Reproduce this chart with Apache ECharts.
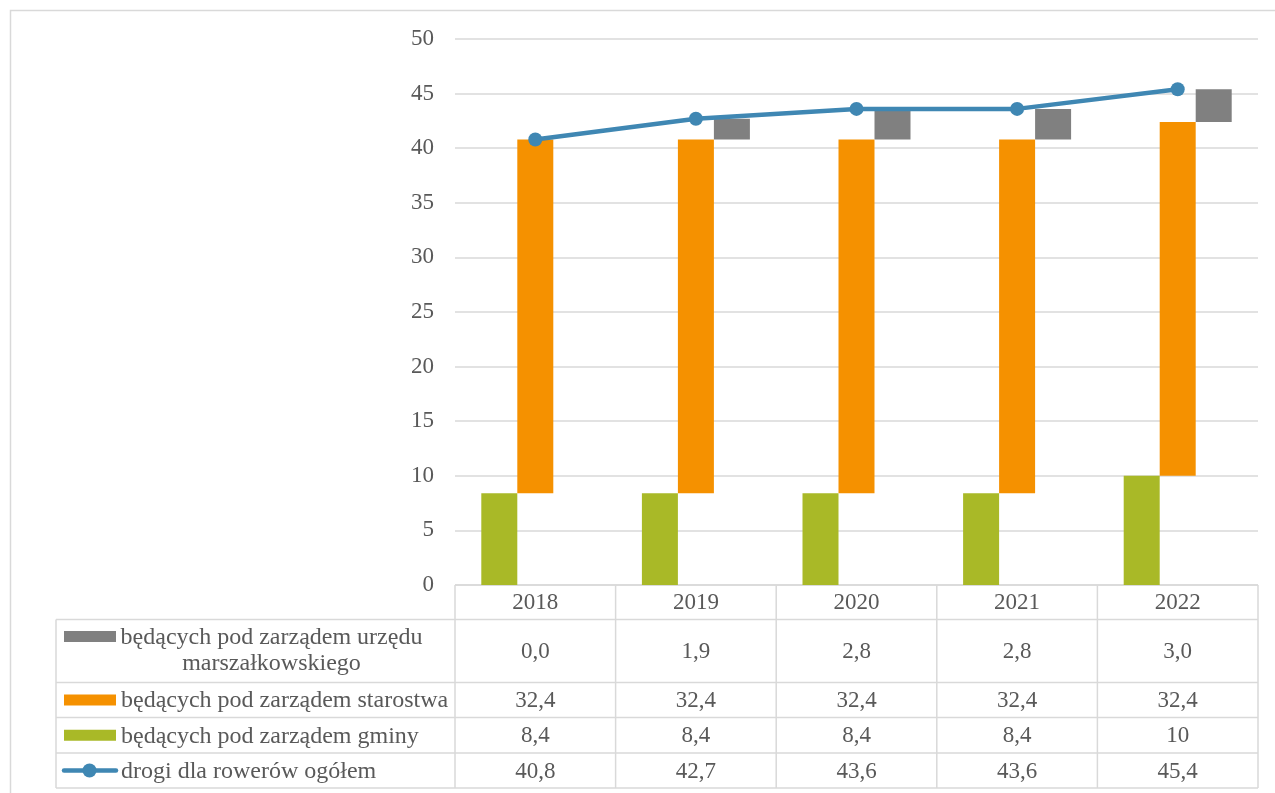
<!DOCTYPE html>
<html>
<head>
<meta charset="utf-8">
<script src="https://cdn.jsdelivr.net/npm/echarts@6/dist/echarts.min.js"></script>
<style>
html,body{margin:0;padding:0;background:#fff;}
#chart{width:1275px;height:793px;}
</style>
</head>
<body>
<div id="chart"></div>
<script>
const categories = ['2018', '2019', '2020', '2021', '2022'];
const marszalkowskie = [0.0, 1.9, 2.8, 2.8, 3.0];
const starostwa = [32.4, 32.4, 32.4, 32.4, 32.4];
const gminy = [8.4, 8.4, 8.4, 8.4, 10];
const ogolem = [40.8, 42.7, 43.6, 43.6, 45.4];
const yTicks = [0, 5, 10, 15, 20, 25, 30, 35, 40, 45, 50];

const names = {
  m: 'będących pod zarządem urzędu marszałkowskiego',
  s: 'będących pod zarządem starostwa',
  g: 'będących pod zarządem gminy',
  t: 'drogi dla rowerów ogółem'
};
const nameLines = { m: ['będących pod zarządem urzędu', 'marszałkowskiego'] };
const colors = { m: '#808080', s: '#F59100', g: '#A9B927', t: '#3F87B3' };

const FONT = '"Liberation Serif", "Times New Roman", serif';
const TXT = '#595959';
const LINE = '#d9d9d9';

const G = { left: 455, top: 39, width: 803, height: 546 };

const base1 = gminy.slice();
const base2 = gminy.map((v, i) => +(v + starostwa[i]).toFixed(1));

const fmt1 = v => v.toFixed(1).replace('.', ',');
const fmtN = v => String(v).replace('.', ',');

const chart = echarts.init(document.getElementById('chart'), null, { renderer: 'canvas' });

function buildTable() {
  const els = [];
  const colW = G.width / categories.length;
  const x0 = G.left, x1 = G.left + G.width, xl = 56;
  const yHead = G.top + G.height; // 585
  const rows = [yHead, 619.5, 682.5, 717.5, 753, 788];
  els.push({ type: 'rect', shape: { x: 10.5, y: 10.5, width: 1300, height: 800 }, style: { fill: 'none', stroke: LINE, lineWidth: 1.5 }, silent: true });
  els.push({ type: 'line', shape: { x1: x0, y1: rows[0], x2: x1, y2: rows[0] }, style: { stroke: LINE, lineWidth: 1.5 } });
  for (let r = 1; r < rows.length; r++) {
    els.push({ type: 'line', shape: { x1: xl, y1: rows[r], x2: x1, y2: rows[r] }, style: { stroke: LINE, lineWidth: 1.5 } });
  }
  els.push({ type: 'line', shape: { x1: xl, y1: rows[1], x2: xl, y2: rows[5] }, style: { stroke: LINE, lineWidth: 1.5 } });
  for (let c = 0; c <= categories.length; c++) {
    const x = x0 + c * colW;
    els.push({ type: 'line', shape: { x1: x, y1: rows[0], x2: x, y2: rows[5] }, style: { stroke: LINE, lineWidth: 1.5 } });
  }
  const txt = (x, y, t, align, size) => ({
    type: 'text', x: x, y: y,
    style: { text: t, fill: TXT, font: (size || 23) + 'px ' + FONT, align: align || 'center', verticalAlign: 'middle' }
  });
  categories.forEach((c, i) => els.push(txt(x0 + (i + 0.5) * colW, (rows[0] + rows[1]) / 2 + 1, c)));
  const rowData = [
    { key: 'm', vals: marszalkowskie.map(fmt1) },
    { key: 's', vals: starostwa.map(fmt1) },
    { key: 'g', vals: gminy.map(fmtN) },
    { key: 't', vals: ogolem.map(fmt1) }
  ];
  rowData.forEach((rd, r) => {
    const yc = (rows[r + 1] + rows[r + 2]) / 2 + 1;
    rd.vals.forEach((v, i) => els.push(txt(x0 + (i + 0.5) * colW, yc, v)));
    if (rd.key === 't') {
      els.push({ type: 'line', shape: { x1: 64, y1: yc - 1, x2: 116, y2: yc - 1 }, style: { stroke: colors.t, lineWidth: 4.5, lineCap: 'round' } });
      els.push({ type: 'circle', shape: { cx: 89.5, cy: yc - 1, r: 7 }, style: { fill: colors.t } });
    } else {
      const ky = r === 0 ? 636.5 : yc - 1;
      els.push({ type: 'rect', shape: { x: 64, y: ky - 5.5, width: 52, height: 11 }, style: { fill: colors[rd.key] } });
    }
    if (nameLines[rd.key]) {
      els.push(txt(271.5, 638, nameLines[rd.key][0], 'center', 24));
      els.push(txt(271.5, 664, nameLines[rd.key][1], 'center', 24));
    } else {
      els.push(txt(121, yc, names[rd.key], 'left', 24));
    }
  });
  return els;
}

const barCommon = { type: 'bar', barWidth: 36, barGap: '0%', barCategoryGap: '0%' };

chart.setOption({
  animation: false,
  backgroundColor: '#fff',
  grid: { left: G.left, top: G.top, width: G.width, height: G.height },
  xAxis: {
    type: 'category', data: categories,
    axisLine: { show: false }, axisTick: { show: false }, axisLabel: { show: false },
    splitLine: { show: false }
  },
  yAxis: {
    type: 'value', min: 0, max: 50, interval: 5,
    axisLine: { show: false }, axisTick: { show: false },
    axisLabel: {
      color: TXT, fontFamily: FONT, fontSize: 23, margin: 21,
      formatter: v => yTicks.indexOf(v) >= 0 ? String(v) : ''
    },
    splitLine: { lineStyle: { color: LINE, width: 1.5 } }
  },
  series: [
    Object.assign({}, barCommon, { name: names.g, stack: 'g', data: gminy, itemStyle: { color: colors.g } }),
    Object.assign({}, barCommon, { name: 'base-s', stack: 's', data: base1, itemStyle: { color: 'rgba(0,0,0,0)' }, silent: true }),
    Object.assign({}, barCommon, { name: names.s, stack: 's', data: starostwa, itemStyle: { color: colors.s } }),
    Object.assign({}, barCommon, { name: 'base-m', stack: 'm', data: base2, itemStyle: { color: 'rgba(0,0,0,0)' }, silent: true }),
    Object.assign({}, barCommon, { name: names.m, stack: 'm', data: marszalkowskie, itemStyle: { color: colors.m } }),
    {
      type: 'line', name: names.t, data: ogolem, z: 5,
      symbol: 'circle', symbolSize: 14,
      lineStyle: { color: colors.t, width: 4.5 },
      itemStyle: { color: colors.t }
    }
  ],
  graphic: buildTable()
});
</script>
</body>
</html>
